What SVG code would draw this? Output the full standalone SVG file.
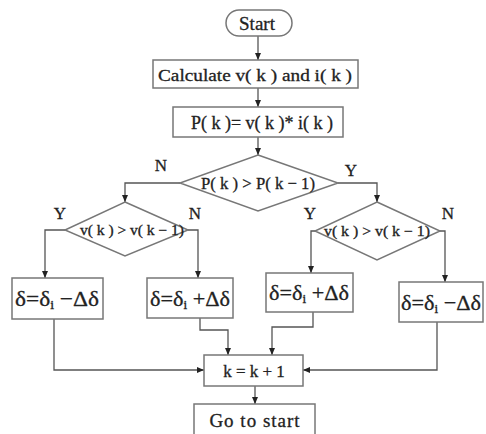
<svg xmlns="http://www.w3.org/2000/svg" width="486" height="434" viewBox="0 0 486 434" font-family="'Liberation Serif', 'DejaVu Serif', serif">
<defs>
<marker id="ah" markerWidth="8" markerHeight="8" refX="7" refY="4" orient="auto" markerUnits="userSpaceOnUse">
<path d="M0,1 L7,4 L0,7 Z" fill="#222"/>
</marker>
<style>
.box{fill:#fff;stroke:#777;stroke-width:1.5}
.arr{fill:none;stroke:#555;stroke-width:1.3;marker-end:url(#ah)}
text{fill:#222;text-anchor:middle;stroke:#222;stroke-width:0.3}
.lbl{font-size:17px}
</style>
</defs>
<rect width="486" height="434" fill="#fff"/>
<g id="connectors">
<line class="arr" x1="258" y1="35" x2="258" y2="60"/>
<line class="arr" x1="258" y1="88" x2="258" y2="107"/>
<line class="arr" x1="258" y1="137" x2="258" y2="155"/>
<polyline class="arr" points="180,183 125,183 125,202"/>
<polyline class="arr" points="338,183 377,183 377,202"/>
<polyline class="arr" points="65,230 45,230 45,278"/>
<polyline class="arr" points="188,230 198,230 198,278"/>
<polyline class="arr" points="315,231 311,231 311,273"/>
<polyline class="arr" points="440,231 445,231 445,282"/>
<polyline class="arr" points="54,318 54,370 204,370"/>
<polyline class="arr" points="200,318 200,330 228,330 228,355"/>
<polyline class="arr" points="313,312 313,327 272,327 272,355"/>
<polyline class="arr" points="437,322 437,370 303,370"/>
<line class="arr" x1="255" y1="386" x2="255" y2="404"/>
<text class="lbl" x="161" y="171">N</text>
<text class="lbl" x="351" y="176">Y</text>
<text class="lbl" x="60" y="219">Y</text>
<text class="lbl" x="195" y="219">N</text>
<text class="lbl" x="310" y="219">Y</text>
<text class="lbl" x="448" y="219">N</text>
</g>
<g id="start">
<rect class="box" x="226" y="10" width="66" height="26" rx="13"/>
<text x="257" y="30" font-size="19">Start</text>
</g>
<g id="calc">
<rect class="box" x="153" y="60" width="205" height="28"/>
<text x="255" y="81" font-size="17" textLength="194" lengthAdjust="spacingAndGlyphs">Calculate v( k ) and i( k )</text>
</g>
<g id="power">
<rect class="box" x="173" y="107" width="170" height="30"/>
<text x="262" y="129" font-size="18" textLength="142" lengthAdjust="spacingAndGlyphs">P( k )= v( k )* i( k )</text>
</g>
<g id="dec1">
<polygon class="box" points="258,155 338,183 258,211 180,183"/>
<text x="258" y="189" font-size="17" textLength="114" lengthAdjust="spacingAndGlyphs">P( k ) &gt; P( k − 1)</text>
</g>
<g id="dec2">
<polygon class="box" points="125,202 188,230 125,256 65,230"/>
<text x="132" y="235" font-size="14" textLength="104" lengthAdjust="spacingAndGlyphs">v( k ) &gt; v( k − 1)</text>
</g>
<g id="dec3">
<polygon class="box" points="377,202 440,231 377,260 315,231"/>
<text x="377" y="236" font-size="14" textLength="106" lengthAdjust="spacingAndGlyphs">v( k ) &gt; v( k − 1)</text>
</g>
<g id="b1">
<rect class="box" x="12" y="278" width="91" height="41"/>
<text x="57" y="306" font-size="22" textLength="84" lengthAdjust="spacingAndGlyphs">δ=δ<tspan font-size="13" dy="3">i</tspan><tspan dy="-3"> −Δδ</tspan></text>
</g>
<g id="b2">
<rect class="box" x="147" y="278" width="86" height="40"/>
<text x="190" y="306" font-size="22" textLength="80" lengthAdjust="spacingAndGlyphs">δ=δ<tspan font-size="13" dy="3">i</tspan><tspan dy="-3"> +Δδ</tspan></text>
</g>
<g id="b3">
<rect class="box" x="266" y="273" width="87" height="39"/>
<text x="309" y="300" font-size="22" textLength="80" lengthAdjust="spacingAndGlyphs">δ=δ<tspan font-size="13" dy="3">i</tspan><tspan dy="-3"> +Δδ</tspan></text>
</g>
<g id="b4">
<rect class="box" x="399" y="282" width="84" height="40"/>
<text x="441" y="310" font-size="22" textLength="80" lengthAdjust="spacingAndGlyphs">δ=δ<tspan font-size="13" dy="3">i</tspan><tspan dy="-3"> −Δδ</tspan></text>
</g>
<g id="inc">
<rect class="box" x="204" y="355" width="99" height="31"/>
<text x="254" y="377" font-size="17">k = k + 1</text>
</g>
<g id="goto">
<rect class="box" x="194" y="404" width="121" height="34"/>
<text x="255" y="427" font-size="19" letter-spacing="1">Go to start</text>
</g>
</svg>
